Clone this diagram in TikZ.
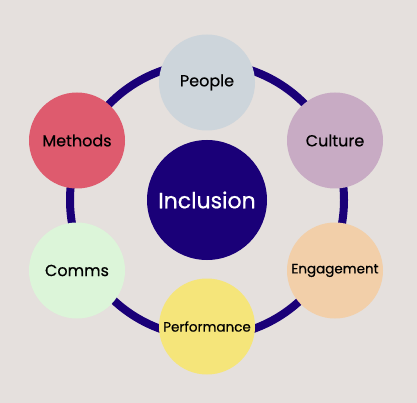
\documentclass[tikz,border=0pt]{standalone}
\usepackage{fontspec}
\setmainfont{Poppins}[FakeBold=0.6]
\usepackage{tikz}
\usetikzlibrary{positioning}
\definecolor{backdrop}{HTML}{E5E0DD}
\definecolor{indigo}{HTML}{1A0078}
\definecolor{peoplegrey}{HTML}{CDD5DB}
\definecolor{culturemauve}{HTML}{C8ABC4}
\definecolor{engagepeach}{HTML}{F2CFA9}
\definecolor{perfyellow}{HTML}{F5E57A}
\definecolor{commsgreen}{HTML}{DCF5D9}
\definecolor{methodsred}{HTML}{DE5B6E}
\tikzset{
  hub/.style    = {circle, fill=indigo, text=white, minimum size=120pt,
                   inner sep=0pt, font=\fontsize{22}{26}\selectfont},
  spoke/.style  = {circle, minimum size=96pt, inner sep=0pt, text=black,
                   font=\fontsize{16}{18}\selectfont},
  smallspoke/.style = {spoke, font=\fontsize{13.5}{16}\selectfont},
  ring/.style   = {draw=indigo, line width=8pt},
}

\begin{document}
\begin{tikzpicture}[x=1pt,y=-1pt]
        \fill[backdrop] (0,0) rectangle (417,403);
        \useasboundingbox (0,0) rectangle (417,403);
        \node[hub] (incl) at (207,200) {Inclusion};
        \draw[ring] (incl.center) circle (137pt);
        \node[spoke,fill=peoplegrey] (people) at (207,82.5) {People};
        \node[spoke,fill=culturemauve] (culture) at (335,140.5) {Culture};
        \node[smallspoke,fill=engagepeach] (engage) at (335,270.5) {Engagement};
        \node[smallspoke,fill=perfyellow] (perf) at (207,326.5) {Performance};
        \node[spoke,fill=commsgreen] (comms) at (77,270.5) {Comms};
        \node[spoke,fill=methodsred] (methods) at (77,140.5) {Methods};
      \end{tikzpicture}
\end{document}
